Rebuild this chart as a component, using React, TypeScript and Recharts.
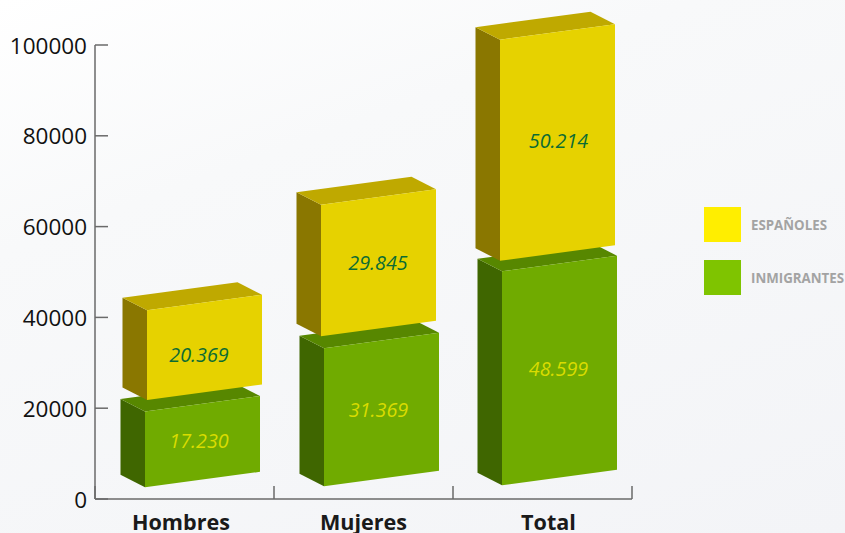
import React from 'react';
import { BarChart, Bar, XAxis, YAxis } from 'recharts';

const categories = ['Hombres', 'Mujeres', 'Total'];
const inmigrantes = [17230, 31369, 48599];
const espanoles = [20369, 29845, 50214];
const yTicks = [0, 20000, 40000, 60000, 80000, 100000];

const data = categories.map((name, i) => ({ name, inmigrantes: inmigrantes[i], espanoles: espanoles[i] }));

const FONT = '"Open Sans", sans-serif';
const AXIS_COLOR = '#6a6a6a';

// the boxes in the original are hand drawn, so each series sits a bit off the axis
const looks = {
  inmigrantes: {
    front: '#70ab00', top: '#578700', side: '#3f6600', text: '#d9dc00',
    lift: [3.3, 2.3, 1.3], shiftX: [18, 18, 17], labelX: [-3.5, -3, -1], labelY: [-1, 0, -2],
  },
  espanoles: {
    front: '#e6d200', top: '#bfa900', side: '#8a7700', text: '#0b6b34',
    lift: [-8.2, -9.7, -9.2], shiftX: [20, 15, 15], labelX: [-5.5, -0.5, 1], labelY: [7, 0, -2],
  },
};

const FRONT_W = 115;
const SKEW = -15.5;
const DEPTH_X = -24.5;
const DEPTH_Y = -12.5;

const Box = (props: any) => {
  const { x, y, width, height, index, series, values } = props;
  const look = looks[series as 'espanoles'];
  const left = x + width / 2 - FRONT_W / 2 + look.shiftX[index];
  const right = left + FRONT_W;
  const topY = 0.97 * y + look.lift[index];
  const botY = 0.97 * (y + height) + look.lift[index];
  const pts = (list: number[][]) => list.map((p) => p.join(',')).join(' ');
  const label = String(values[index]).replace(/(\d)(\d{3})$/, '$1.$2');
  return (
    <g>
      <polygon
        fill={look.side}
        points={pts([[left, topY], [left + DEPTH_X, topY + DEPTH_Y], [left + DEPTH_X, botY + DEPTH_Y], [left, botY]])}
      />
      <polygon
        fill={look.top}
        points={pts([[left, topY], [left + DEPTH_X, topY + DEPTH_Y], [right + DEPTH_X, topY + SKEW + DEPTH_Y], [right, topY + SKEW]])}
      />
      <polygon
        fill={look.front}
        points={pts([[left, topY], [right, topY + SKEW], [right, botY + SKEW], [left, botY]])}
      />
      <text
        x={left + FRONT_W / 2 + look.labelX[index]}
        y={(topY + botY + SKEW) / 2 + look.labelY[index]}
        textAnchor="middle"
        dominantBaseline="central"
        fontFamily={FONT}
        fontStyle="italic"
        fontSize={19.8}
        fill={look.text}
      >
        {label}
      </text>
    </g>
  );
};

const YTick = ({ x, y, payload }: any) => (
  <g>
    <line x1={x} x2={x + 13} y1={y} y2={y} stroke={AXIS_COLOR} strokeWidth={1.5} />
    <text x={x - 8} y={y} textAnchor="end" dominantBaseline="central" fontFamily={FONT} fontSize={22.5} fill="#111">
      {payload.value}
    </text>
  </g>
);

const PLOT_W = 537;
const xLabelShift = [-3.5, 0, 6];
const XTick = ({ x, y, payload, index }: any) => {
  const step = PLOT_W / categories.length;
  const edge = x + step / 2;
  return (
    <g>
      <line x1={edge} x2={edge} y1={y} y2={y - 13} stroke={AXIS_COLOR} strokeWidth={1.5} />
      {index === 0 && <line x1={x - step / 2} x2={x - step / 2} y1={y} y2={y - 13} stroke={AXIS_COLOR} strokeWidth={1.5} />}
      <text x={x + xLabelShift[index]} y={y + 22} textAnchor="middle" dominantBaseline="central" fontFamily={FONT} fontWeight={700} fontSize={21.6} fill="#1a1a1a">
        {payload.value}
      </text>
    </g>
  );
};

const legendItems = [
  { label: 'ESPAÑOLES', color: '#ffee00' },
  { label: 'INMIGRANTES', color: '#7fc400' },
];

const LegendBlock = () => (
  <div style={{ position: 'absolute', left: 704, top: 207, width: 141, fontFamily: FONT }}>
    {legendItems.map((item) => (
      <div key={item.label} style={{ display: 'flex', alignItems: 'center', height: 35, marginBottom: 18 }}>
        <div style={{ width: 37, height: 35, background: item.color, marginRight: 10, flexShrink: 0 }} />
        <span style={{ color: '#a3a3a3', fontWeight: 700, fontSize: 13.3, whiteSpace: 'nowrap' }}>{item.label}</span>
      </div>
    ))}
  </div>
);

export default function App() {
  return (
    <div
      style={{
        position: 'absolute',
        left: 0,
        top: 0,
        width: 845,
        height: 533,
        overflow: 'hidden',
        background: 'linear-gradient(160deg, #ffffff 0%, #f8f9fa 30%, #f3f4f7 100%)',
      }}
    >
      <BarChart
        width={845}
        height={533}
        data={data}
        margin={{ top: 45, right: 213, bottom: 0, left: 0 }}
        barSize={FRONT_W}
        style={{ overflow: 'visible' }}
      >
        <XAxis
          dataKey="name"
          height={34}
          interval={0}
          tick={<XTick />}
          tickLine={false}
          tickSize={0}
          tickMargin={0}
          axisLine={{ stroke: AXIS_COLOR, strokeWidth: 1.5 }}
        />
        <YAxis
          width={95}
          domain={[0, 100000]}
          ticks={yTicks}
          interval={0}
          tick={<YTick />}
          tickLine={false}
          tickSize={0}
          tickMargin={0}
          axisLine={{ stroke: AXIS_COLOR, strokeWidth: 1.5 }}
        />
        <Bar
          dataKey="inmigrantes"
          stackId="a"
          isAnimationActive={false}
          shape={(p: any) => <Box {...p} series="inmigrantes" values={inmigrantes} />}
        />
        <Bar
          dataKey="espanoles"
          stackId="a"
          isAnimationActive={false}
          shape={(p: any) => <Box {...p} series="espanoles" values={espanoles} />}
        />
      </BarChart>
      <LegendBlock />
    </div>
  );
}
